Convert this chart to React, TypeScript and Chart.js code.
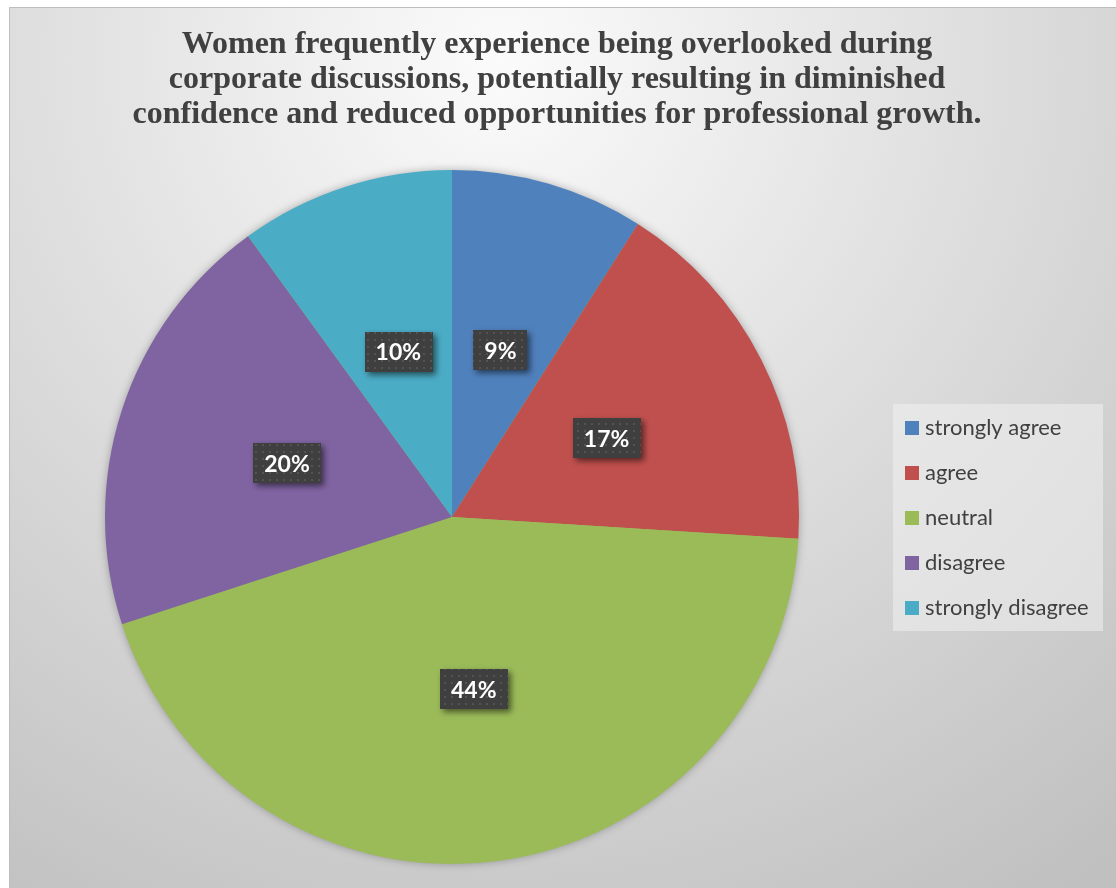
import React, { useEffect, useRef } from "react";
import { Chart, registerables } from "chart.js";
Chart.register(...registerables);

const categories = ["strongly agree", "agree", "neutral", "disagree", "strongly disagree"];
const values = [9, 17, 44, 20, 10];
const colors = ["#4F81BD", "#C0504D", "#9BBB59", "#8064A2", "#4BACC6"];
const titleLines = [
  "Women frequently experience being overlooked during",
  "corporate discussions, potentially resulting in diminished",
  "confidence and reduced opportunities for professional growth.",
];

const W = 1116;
const H = 888;

function makePattern(ctx: CanvasRenderingContext2D) {
  const c = document.createElement("canvas");
  c.width = 7;
  c.height = 7;
  const p = c.getContext("2d")!;
  p.fillStyle = "#3f3f3f";
  p.fillRect(0, 0, 7, 7);
  p.fillStyle = "#535353";
  p.fillRect(3, 3, 2, 2);
  return ctx.createPattern(c, "repeat");
}

const backgroundPlugin = {
  id: "bgTitle",
  beforeDraw(chart: any) {
    const ctx: CanvasRenderingContext2D = chart.ctx;
    ctx.save();
    ctx.fillStyle = "#ffffff";
    ctx.fillRect(0, 0, W, H);
    const g = ctx.createRadialGradient(500, 60, 0, 500, 60, 1000);
    g.addColorStop(0, "#fbfbfb");
    g.addColorStop(0.45, "#e0e0e0");
    g.addColorStop(1, "#c0c0c0");
    ctx.fillStyle = g;
    ctx.fillRect(9, 7, W - 9, H - 7);
    ctx.strokeStyle = "#bdbdbd";
    ctx.lineWidth = 1;
    ctx.beginPath();
    ctx.moveTo(9.5, H);
    ctx.lineTo(9.5, 7.5);
    ctx.lineTo(W, 7.5);
    ctx.stroke();
    // title
    ctx.fillStyle = "#404040";
    ctx.font = "bold 32px 'Liberation Serif'";
    ctx.textAlign = "center";
    ctx.textBaseline = "alphabetic";
    titleLines.forEach((t, i) => ctx.fillText(t, 557, 53 + i * 35));
    ctx.restore();
  },
};

const pieShadowPlugin = {
  id: "pieShadow",
  beforeDatasetsDraw(chart: any) {
    const arc = chart.getDatasetMeta(0).data[0];
    if (!arc) return;
    const ctx: CanvasRenderingContext2D = chart.ctx;
    ctx.save();
    ctx.shadowColor = "rgba(0,0,0,0.35)";
    ctx.shadowBlur = 10;
    ctx.shadowOffsetX = 0;
    ctx.shadowOffsetY = 0;
    ctx.fillStyle = "#9BBB59";
    ctx.beginPath();
    ctx.arc(arc.x, arc.y, arc.outerRadius - 1, 0, Math.PI * 2);
    ctx.fill();
    ctx.restore();
  },
};

const labelPlugin = {
  id: "boxLabels",
  afterDatasetsDraw(chart: any) {
    const ctx: CanvasRenderingContext2D = chart.ctx;
    const meta = chart.getDatasetMeta(0);
    const pattern = makePattern(ctx);
    ctx.save();
    ctx.font = "bold 23px Lato";
    ctx.textAlign = "center";
    ctx.textBaseline = "middle";
    meta.data.forEach((arc: any, i: number) => {
      const mid = (arc.startAngle + arc.endAngle) / 2;
      const r = arc.outerRadius * 0.5;
      const x = arc.x + Math.cos(mid) * r;
      const y = arc.y + Math.sin(mid) * r;
      const text = values[i] + "%";
      const tw = ctx.measureText(text).width;
      const bw = tw + 22;
      const bh = 40;
      ctx.save();
      ctx.shadowColor = "rgba(0,0,0,0.55)";
      ctx.shadowBlur = 6;
      ctx.shadowOffsetX = 3;
      ctx.shadowOffsetY = 3;
      ctx.fillStyle = pattern || "#404040";
      ctx.fillRect(Math.round(x - bw / 2), Math.round(y - bh / 2), Math.round(bw), bh);
      ctx.restore();
      ctx.fillStyle = "#ffffff";
      ctx.fillText(text, x, y + 1);
    });
    ctx.restore();
  },
};

const legendPlugin = {
  id: "customLegend",
  afterDraw(chart: any) {
    const ctx: CanvasRenderingContext2D = chart.ctx;
    ctx.save();
    ctx.fillStyle = "rgba(240,240,240,0.55)";
    ctx.fillRect(893, 404, 210, 227);
    ctx.font = "22px Lato";
    ctx.textAlign = "left";
    ctx.textBaseline = "middle";
    categories.forEach((c, i) => {
      const cy = 428 + i * 45;
      ctx.fillStyle = colors[i];
      ctx.fillRect(905, cy - 7, 14, 14);
      ctx.fillStyle = "#404040";
      ctx.fillText(c, 925, cy);
    });
    ctx.restore();
  },
};

export default function App() {
  const ref = useRef<HTMLCanvasElement>(null);
  useEffect(() => {
    if (!ref.current) return;
    const chart = new Chart(ref.current, {
      type: "pie",
      data: {
        labels: categories,
        datasets: [
          {
            data: values,
            backgroundColor: colors,
            borderWidth: 0,
          },
        ],
      },
      options: {
        responsive: false,
        animation: false,
        devicePixelRatio: 1,
        layout: { padding: { left: 105, right: 317, top: 170, bottom: 24 } },
        plugins: {
          legend: { display: false },
          tooltip: { enabled: false },
          title: { display: false },
        },
      },
      plugins: [backgroundPlugin, pieShadowPlugin, labelPlugin, legendPlugin],
    });
    return () => chart.destroy();
  }, []);
  return (
    <div style={{ position: "absolute", left: 0, top: 0, width: W, height: H }}>
      <canvas ref={ref} width={W} height={H} style={{ width: W, height: H, display: "block" }} />
    </div>
  );
}
